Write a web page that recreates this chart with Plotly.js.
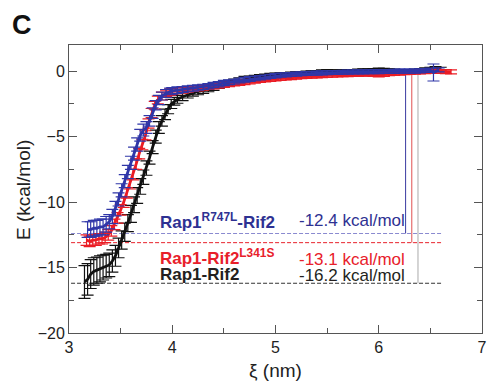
<!DOCTYPE html>
<html>
<head>
<meta charset="utf-8">
<script src="https://cdn.plot.ly/plotly-3.0.1.min.js"></script>
<style>html,body{margin:0;padding:0;background:#fff;}#chart{width:489px;height:385px;}</style>
</head>
<body>
<div id="chart"></div>
<script>
// ---- Data (xi in nm, E in kcal/mol) ----
var blackXi = [3.15,3.18,3.21,3.24,3.27,3.30,3.33,3.36,3.39,3.42,3.45,3.48,3.51,3.54,3.57,3.60,3.63,3.66,3.69,3.72,3.75,3.78,3.81,3.84,3.87,3.90,3.93,3.96,3.99,
  4.02,4.05,4.10,4.15,4.20,4.25,4.30,4.35,4.40,4.45,4.50,4.55,4.60,4.65,4.70,4.75,4.80,4.85,4.90,4.95,5.00,5.05,5.10,5.15,5.20,5.25,5.30,5.35,5.40,5.45,5.50,5.55,5.60,5.65,5.70,5.75,5.80,5.85,5.90,5.95,6.00,6.05,6.10,6.15,6.20,6.25,6.30,6.35,6.40,6.45,6.50,6.55,6.60];
var blackE = [-16.1,-15.9,-15.5,-15.3,-15.2,-15.1,-15.0,-14.9,-14.8,-14.5,-14.1,-13.5,-12.9,-12.3,-11.6,-10.9,-10.2,-9.5,-8.8,-8.1,-7.4,-6.6,-5.8,-5.0,-4.3,-3.8,-3.3,-2.9,-2.5,
  -2.3,-2.15,-1.95,-1.8,-1.65,-1.55,-1.45,-1.35,-1.25,-1.1,-1.0,-0.9,-0.8,-0.7,-0.6,-0.55,-0.5,-0.45,-0.4,-0.35,-0.3,-0.28,-0.25,-0.22,-0.2,-0.18,-0.15,-0.12,-0.1,-0.05,-0.02,-0.05,-0.05,-0.04,-0.03,-0.02,0.0,0.02,0.03,0.05,0.08,0.06,0.02,0.0,-0.02,-0.03,-0.02,0.0,0.05,0.1,0.15,0.2,0.15];
var blackErr = [1.25,1.2,1.1,1.05,1.0,1.0,0.95,0.9,0.9,0.85,0.8,0.75,0.7,0.7,0.65,0.65,0.6,0.6,0.6,0.55,0.55,0.5,0.5,0.5,0.45,0.4,0.4,0.35,0.35,
  0.3,0.3,0.3,0.25,0.25,0.25,0.25,0.22,0.22,0.22,0.2,0.2,0.2,0.2,0.2,0.18,0.18,0.18,0.18,0.18,0.15,0.15,0.15,0.15,0.15,0.15,0.15,0.15,0.15,0.15,0.15,0.15,0.15,0.15,0.15,0.15,0.15,0.15,0.15,0.15,0.15,0.15,0.15,0.15,0.15,0.15,0.15,0.15,0.15,0.15,0.15,0.15,0.15];

var redXi = [3.17,3.20,3.23,3.26,3.29,3.32,3.35,3.38,3.41,3.44,3.47,3.50,3.53,3.56,3.59,3.62,3.65,3.68,3.71,3.74,3.77,3.80,3.83,3.86,3.90,3.94,3.98,
  4.00,4.05,4.10,4.15,4.20,4.25,4.30,4.35,4.40,4.45,4.50,4.55,4.60,4.65,4.70,4.75,4.80,4.85,4.90,4.95,5.00,5.05,5.10,5.15,5.20,5.25,5.30,5.35,5.40,5.45,5.50,5.55,5.60,5.65,5.70,5.75,5.80,5.85,5.90,5.95,6.00,6.05,6.10,6.15,6.20,6.25,6.30,6.35,6.40,6.45,6.50,6.55,6.60,6.65,6.70];
var redE = [-12.9,-13.0,-12.9,-12.9,-12.8,-12.8,-12.7,-12.5,-12.2,-11.7,-11.2,-10.6,-10.0,-9.3,-8.6,-7.9,-7.1,-6.3,-5.6,-4.9,-4.0,-3.2,-2.6,-2.2,-1.9,-1.7,-1.6,
  -1.55,-1.5,-1.45,-1.4,-1.35,-1.3,-1.25,-1.2,-1.15,-1.1,-1.05,-1.0,-0.95,-0.9,-0.85,-0.8,-0.75,-0.7,-0.66,-0.62,-0.58,-0.55,-0.52,-0.49,-0.46,-0.43,-0.4,-0.38,-0.36,-0.34,-0.32,-0.3,-0.28,-0.27,-0.26,-0.25,-0.24,-0.23,-0.22,-0.25,-0.28,-0.25,-0.2,-0.18,-0.15,-0.12,-0.1,-0.08,-0.05,-0.03,0.0,0.0,-0.02,-0.03,-0.05];
var redErr = [0.4,0.4,0.4,0.4,0.4,0.4,0.4,0.4,0.4,0.4,0.4,0.4,0.4,0.4,0.4,0.4,0.4,0.4,0.4,0.35,0.35,0.35,0.3,0.3,0.3,0.25,0.25,
  0.22,0.22,0.22,0.2,0.2,0.2,0.2,0.2,0.2,0.2,0.18,0.18,0.18,0.18,0.18,0.18,0.16,0.16,0.16,0.16,0.16,0.16,0.15,0.15,0.15,0.15,0.15,0.15,0.15,0.15,0.15,0.15,0.15,0.15,0.15,0.15,0.15,0.15,0.15,0.15,0.15,0.15,0.15,0.15,0.15,0.15,0.15,0.15,0.15,0.15,0.15,0.15,0.15,0.15,0.15];

var blueXi = [3.18,3.21,3.24,3.27,3.30,3.33,3.36,3.39,3.42,3.45,3.48,3.51,3.54,3.57,3.60,3.63,3.66,3.69,3.72,3.75,3.78,3.81,3.84,3.87,3.90,3.94,3.98,
  4.00,4.05,4.10,4.15,4.20,4.25,4.30,4.35,4.40,4.45,4.50,4.55,4.60,4.65,4.70,4.75,4.80,4.85,4.90,4.95,5.00,5.05,5.10,5.15,5.20,5.25,5.30,5.35,5.40,5.45,5.50,5.55,5.60,5.65,5.70,5.75,5.80,5.85,5.90,5.95,6.00,6.05,6.10,6.15,6.20,6.25,6.30,6.35,6.40,6.45,6.50,6.53,6.58];
var blueE = [-12.1,-12.1,-12.0,-12.0,-11.9,-11.9,-11.7,-11.5,-11.1,-10.5,-9.8,-9.1,-8.4,-7.7,-7.0,-6.3,-5.6,-4.9,-4.5,-4.3,-3.8,-3.2,-2.6,-2.2,-1.9,-1.7,-1.55,
  -1.5,-1.45,-1.4,-1.35,-1.3,-1.25,-1.2,-1.15,-1.05,-1.0,-0.9,-0.85,-0.8,-0.72,-0.65,-0.6,-0.55,-0.5,-0.45,-0.4,-0.35,-0.3,-0.28,-0.25,-0.22,-0.2,-0.18,-0.16,-0.15,-0.13,-0.12,-0.1,-0.1,-0.08,-0.07,-0.06,-0.05,-0.05,-0.04,-0.03,-0.03,-0.02,-0.02,-0.01,0.0,0.0,0.0,0.0,0.02,0.05,0.08,-0.1,0.1];
var blueErr = [0.6,0.6,0.6,0.6,0.6,0.6,0.6,0.55,0.55,0.55,0.5,0.5,0.5,0.5,0.5,0.5,0.5,0.45,0.45,0.45,0.4,0.4,0.35,0.35,0.3,0.3,0.25,
  0.25,0.25,0.22,0.22,0.22,0.2,0.2,0.2,0.2,0.2,0.2,0.18,0.18,0.18,0.18,0.18,0.18,0.16,0.16,0.16,0.16,0.16,0.15,0.15,0.15,0.15,0.15,0.15,0.15,0.15,0.15,0.15,0.15,0.15,0.15,0.15,0.15,0.15,0.15,0.15,0.15,0.15,0.15,0.15,0.15,0.15,0.15,0.15,0.15,0.15,0.15,0.65,0.15];

// Binding free energy levels
var levelNames = ['Rap1<sup>R747L</sup>-Rif2', 'Rap1-Rif2<sup>L341S</sup>', 'Rap1-Rif2'];
var levelValues = [-12.4, -13.1, -16.2];
var levelLabels = ['-12.4 kcal/mol', '-13.1 kcal/mol', '-16.2 kcal/mol'];
var levelDashStart = 3.02, levelDashEnd = 6.62;
var dropXi = [6.26, 6.32, 6.38];

var dashColors = ['#8a8ad0', '#e8202a', '#333333'];
var dropColors = ['#3a3aa0', '#e05050', '#aaaaaa'];
var textColors = ['#2e3192', '#e8202a', '#231f20'];

function series(x, y, e, color, capw) {
  return {x: x, y: y, type: 'scatter', mode: 'lines',
    line: {color: color, width: 2.8},
    error_y: {type: 'data', array: e, visible: true, color: color, thickness: 1.2, width: capw},
    hoverinfo: 'skip', showlegend: false};
}

var traces = [];
for (var i = 0; i < 3; i++) {
  traces.push({x: [levelDashStart, levelDashEnd], y: [levelValues[i], levelValues[i]], type: 'scatter', mode: 'lines',
    line: {color: dashColors[i], width: 1, dash: '4px,2px'}, showlegend: false, hoverinfo: 'skip'});
  traces.push({x: [dropXi[i], dropXi[i]], y: [0, levelValues[i]], type: 'scatter', mode: 'lines',
    line: {color: dropColors[i], width: 1}, showlegend: false, hoverinfo: 'skip'});
}
traces.push(series(blackXi, blackE, blackErr, '#111111', 6));
traces.push(series(redXi, redE, redErr, '#ea1c24', 6));
traces.push(series(blueXi, blueE, blueErr, '#2f36a8', 6));

var fontFam = 'Liberation Sans, Arial, sans-serif';
var W = 489, H = 385, ml = 69, mr = 7, mt = 45, mb = 52;
var pw = W - ml - mr, ph = H - mt - mb;

var ann = [];
var nameY = [-11.43, -14.2, -15.5];
var valY = [-11.43, -14.35, -15.57];
for (var j = 0; j < 3; j++) {
  ann.push({x: 3.862, y: nameY[j], xref: 'x', yref: 'y', xanchor: 'left', yanchor: 'middle', showarrow: false,
    text: '<b>' + levelNames[j] + '</b>', font: {family: fontFam, size: 17, color: textColors[j]}});
  ann.push({x: 5.208, y: valY[j], xref: 'x', yref: 'y', xanchor: 'left', yanchor: 'middle', showarrow: false,
    text: levelLabels[j], font: {family: fontFam, size: 17, color: textColors[j]}});
}
// panel letter
ann.push({x: (22 - ml) / pw, y: (H - mb - 25) / ph, xref: 'paper', yref: 'paper', xanchor: 'center', yanchor: 'middle',
  showarrow: false, text: '<b>C</b>', font: {family: fontFam, size: 27, color: '#111'}});
// y-axis title
ann.push({x: (23 - ml) / pw, y: (H - mb - 190) / ph, xref: 'paper', yref: 'paper', xanchor: 'center', yanchor: 'middle',
  textangle: -90, showarrow: false, text: 'E (kcal/mol)', font: {family: fontFam, size: 19, color: '#222'}});

var axisCommon = {showline: true, linecolor: '#555', linewidth: 1, mirror: 'ticks', ticks: 'inside',
  tickcolor: '#555', ticklen: 8, tickwidth: 1, showgrid: false, zeroline: false,
  tickfont: {family: fontFam, size: 16, color: '#222'}};

var layout = {
  width: W, height: H,
  margin: {l: ml, r: mr, t: mt, b: mb, pad: 0},
  paper_bgcolor: '#fff', plot_bgcolor: '#fff',
  font: {family: fontFam},
  xaxis: Object.assign({}, axisCommon, {range: [3, 7], dtick: 1, tick0: 3,
    minor: {dtick: 0.5, ticks: 'inside', ticklen: 5, tickcolor: '#555', tickwidth: 1},
    title: {text: 'ξ (nm)', font: {family: fontFam, size: 19, color: '#222'}, standoff: 8}}),
  yaxis: Object.assign({}, axisCommon, {range: [-20, 2], dtick: 5, tick0: 0,
    minor: {dtick: 2.5, ticks: 'inside', ticklen: 5, tickcolor: '#555', tickwidth: 1}}),
  annotations: ann
};

Plotly.newPlot('chart', traces, layout, {staticPlot: true, displayModeBar: false});
</script>
</body>
</html>
